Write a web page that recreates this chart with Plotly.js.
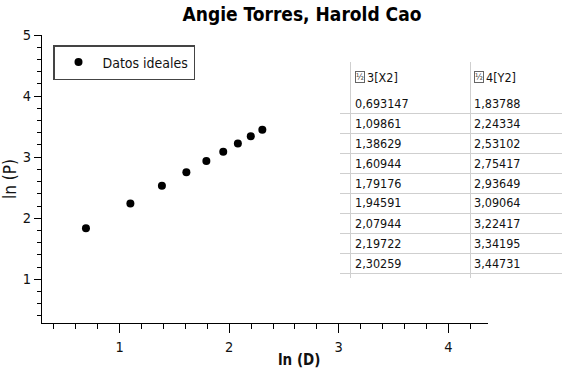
<!DOCTYPE html>
<html>
<head>
<meta charset="utf-8">
<script src="https://cdn.plot.ly/plotly-3.0.1.min.js"></script>
<style>html,body{margin:0;padding:0;background:#fff;}#chart{width:581px;height:379px;}</style>
</head>
<body>
<div id="chart"></div>
<script>
// ---- data ----
var lnD = [0.693147, 1.09861, 1.38629, 1.60944, 1.79176, 1.94591, 2.07944, 2.19722, 2.30259];
var lnP = [1.83788, 2.24334, 2.53102, 2.75417, 2.93649, 3.09064, 3.22417, 3.34195, 3.44731];
var colX = ["0,693147", "1,09861", "1,38629", "1,60944", "1,79176", "1,94591", "2,07944", "2,19722", "2,30259"];
var colY = ["1,83788", "2,24334", "2,53102", "2,75417", "2,93649", "3,09064", "3,22417", "3,34195", "3,44731"];
var headers = ["3[X2]", "4[Y2]"];
var seriesName = "Datos ideales";
var chartTitle = "Angie Torres, Harold Cao";
var xTitle = "ln (D)";
var yTitle = "ln (P)";

// ---- layout geometry ----
var W = 581, H = 379;
var M = {l: 42, r: 93, t: 35, b: 56};
var PW = W - M.l - M.r, PH = H - M.t - M.b;
function px(x) { return (x - M.l) / PW; }
function py(y) { return (H - M.b - y) / PH; }

var FONT = '"DejaVu Sans Condensed", "DejaVu Sans", sans-serif';

var shapes = [];
var annotations = [];

// table grid
var gridColor = '#cfcfcf';
for (var k = 0; k <= colX.length - 1; k++) {
  var yy = 113.5 + 20 * k;
  shapes.push({type: 'line', xref: 'paper', yref: 'paper', x0: px(340), x1: px(562), y0: py(yy), y1: py(yy), line: {color: gridColor, width: 1}});
}
[350.5, 470.5].forEach(function (vx) {
  shapes.push({type: 'line', xref: 'paper', yref: 'paper', x0: px(vx), x1: px(vx), y0: py(62), y1: py(278), line: {color: gridColor, width: 1}});
});

// table header
var colLeft = [355, 474];
headers.forEach(function (h, i) {
  annotations.push({xref: 'paper', yref: 'paper', x: px(colLeft[i]), y: py(77), xanchor: 'left', yanchor: 'middle',
    text: '½', showarrow: false, font: {family: FONT, size: 9, color: '#333'}, bordercolor: '#666', borderwidth: 1, borderpad: 0});
  annotations.push({xref: 'paper', yref: 'paper', x: px(colLeft[i] + 10), y: py(77), xanchor: 'left', yanchor: 'middle',
    text: h, showarrow: false, font: {family: FONT, size: 12.5, color: '#111'}});
});
// table cells
for (var i = 0; i < colX.length; i++) {
  var ry = 103 + 20 * i;
  annotations.push({xref: 'paper', yref: 'paper', x: px(colLeft[0] - 2), y: py(ry), xanchor: 'left', yanchor: 'middle',
    text: colX[i], showarrow: false, font: {family: FONT, size: 12.5, color: '#111'}});
  annotations.push({xref: 'paper', yref: 'paper', x: px(colLeft[1] - 2), y: py(ry), xanchor: 'left', yanchor: 'middle',
    text: colY[i], showarrow: false, font: {family: FONT, size: 12.5, color: '#111'}});
}
// x axis title
annotations.push({xref: 'paper', yref: 'paper', x: px(299), y: py(360), xanchor: 'center', yanchor: 'middle',
  text: '<b>' + xTitle + '</b>', showarrow: false, font: {family: FONT, size: 15, color: '#111'}});

var trace = {
  x: lnD, y: lnP, type: 'scatter', mode: 'markers', name: seriesName,
  marker: {color: '#000', size: 8}, showlegend: true
};

var layout = {
  width: W, height: H,
  margin: M,
  paper_bgcolor: '#fff', plot_bgcolor: '#fff',
  font: {family: FONT, size: 13, color: '#111'},
  title: {text: '<b>' + chartTitle + '</b>', x: px(302), xref: 'paper', xanchor: 'center', y: 1 - 14 / H, yref: 'container', yanchor: 'middle',
    font: {family: FONT, size: 19, color: '#000'}},
  xaxis: {
    range: [0.292, 4.362], dtick: 1, tick0: 0, showgrid: false, zeroline: false,
    showline: true, linecolor: '#000', linewidth: 1,
    ticks: 'outside', ticklen: 9, tickcolor: '#000', tickwidth: 1,
    minor: {dtick: 0.2, ticks: 'outside', ticklen: 5, tickcolor: '#000', tickwidth: 1, showgrid: false},
    tickfont: {family: FONT, size: 14.5, color: '#111'}, ticklabelstandoff: 2
  },
  yaxis: {
    range: [0.285, 5], dtick: 1, tick0: 0, showgrid: false, zeroline: false,
    showline: true, linecolor: '#000', linewidth: 1,
    ticks: 'outside', ticklen: 7, tickcolor: '#000', tickwidth: 1,
    minor: {dtick: 0.2, ticks: 'outside', ticklen: 4, tickcolor: '#000', tickwidth: 1, showgrid: false},
    tickfont: {family: FONT, size: 14.5, color: '#111'},
    title: {text: yTitle, font: {family: FONT, size: 17, color: '#111'}, standoff: 2}
  },
  legend: {
    x: px(53), y: py(45), xanchor: 'left', yanchor: 'top',
    bgcolor: '#fff', bordercolor: '#444', borderwidth: 1.5,
    font: {family: FONT, size: 14, color: '#111'}, itemwidth: 38
  },
  showlegend: true,
  shapes: shapes,
  annotations: annotations
};

Plotly.newPlot('chart', [trace], layout, {displayModeBar: false, staticPlot: true});
</script>
</body>
</html>
